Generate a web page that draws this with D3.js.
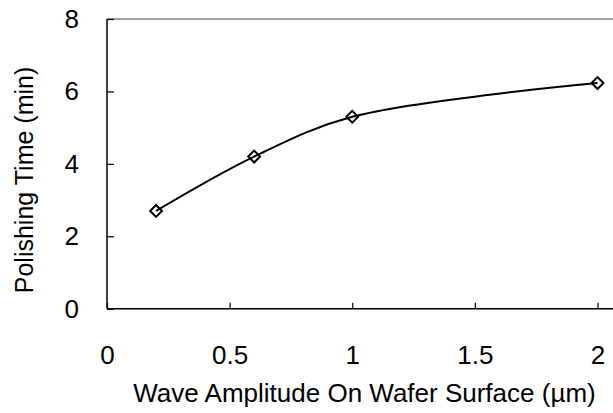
<!DOCTYPE html>
<html>
<head>
<meta charset="utf-8">
<script src="https://cdn.jsdelivr.net/npm/d3@7"></script>
<style>
  body { margin: 0; background: #fff; }
  text { font-family: "Liberation Sans", Arial, sans-serif; fill: #000; }
</style>
</head>
<body>
<div id="chart"></div>
<script>
// data
var amplitude = [0.2, 0.6, 1, 2];          // µm
var polishTime = [2.7, 4.2, 5.3, 6.23];     // min
var xTicks = [0, 0.5, 1, 1.5, 2];
var yTicks = [0, 2, 4, 6, 8];

var width = 613, height = 413;
var svg = d3.select('#chart').append('svg')
    .attr('width', width)
    .attr('height', height);

var x = d3.scaleLinear().domain([0, 2]).range([107, 597.5]);
var y = d3.scaleLinear().domain([0, 8]).range([308.7, 19]);

// plot frame: grey top edge, black axes
svg.append('line')
    .attr('x1', x(0)).attr('x2', width)
    .attr('y1', y(8)).attr('y2', y(8))
    .attr('stroke', '#808080').attr('stroke-width', 1.5);

svg.append('line')
    .attr('x1', x(0)).attr('x2', width)
    .attr('y1', y(0)).attr('y2', y(0))
    .attr('stroke', '#000').attr('stroke-width', 1.5);

svg.append('line')
    .attr('x1', x(0)).attr('x2', x(0))
    .attr('y1', y(0)).attr('y2', y(8))
    .attr('stroke', '#000').attr('stroke-width', 1.5);

// ticks point inward
var xAxis = d3.axisBottom(x).tickValues(xTicks).tickSizeInner(-6).tickSizeOuter(0)
    .tickPadding(37).tickFormat(d3.format('~g'));
var gx = svg.append('g').attr('transform', 'translate(0,' + y(0) + ')').call(xAxis);
gx.select('.domain').remove();
gx.selectAll('line').attr('stroke', '#000').attr('stroke-width', 1.2);
gx.selectAll('text').attr('font-size', 26).attr('fill', '#000')
    .attr('font-family', '"Liberation Sans", Arial, sans-serif');

var yAxis = d3.axisLeft(y).tickValues(yTicks).tickSizeInner(-7).tickSizeOuter(0)
    .tickPadding(28);
var gy = svg.append('g').attr('transform', 'translate(' + x(0) + ',0)').call(yAxis);
gy.select('.domain').remove();
gy.selectAll('line').attr('stroke', '#000').attr('stroke-width', 1.2);
gy.selectAll('text').attr('font-size', 26).attr('fill', '#000')
    .attr('font-family', '"Liberation Sans", Arial, sans-serif');

// smoothed series line
var pts = amplitude.map(function(d, i) { return [d, polishTime[i]]; });
var line = d3.line()
    .x(function(d) { return x(d[0]); })
    .y(function(d) { return y(d[1]); })
    .curve(d3.curveCatmullRom.alpha(0.5));

svg.append('path')
    .datum(pts)
    .attr('d', line)
    .attr('fill', 'none')
    .attr('stroke', '#000')
    .attr('stroke-width', 2);

// hollow diamond markers
var sym = d3.symbol().type(d3.symbolSquare).size(70);
svg.selectAll('path.marker')
    .data(pts)
    .enter()
    .append('path')
    .attr('class', 'marker')
    .attr('d', sym)
    .attr('transform', function(d) {
        return 'translate(' + x(d[0]) + ',' + y(d[1]) + ') rotate(45)';
    })
    .attr('fill', 'none')
    .attr('stroke', '#000')
    .attr('stroke-width', 2);

// axis titles
svg.append('text')
    .attr('x', 364.5).attr('y', 402)
    .attr('text-anchor', 'middle')
    .attr('font-size', 26)
    .text('Wave Amplitude On Wafer Surface (µm)');

svg.append('text')
    .attr('transform', 'translate(33,180) rotate(-90)')
    .attr('text-anchor', 'middle')
    .attr('font-size', 25)
    .text('Polishing Time (min)');
</script>
</body>
</html>
